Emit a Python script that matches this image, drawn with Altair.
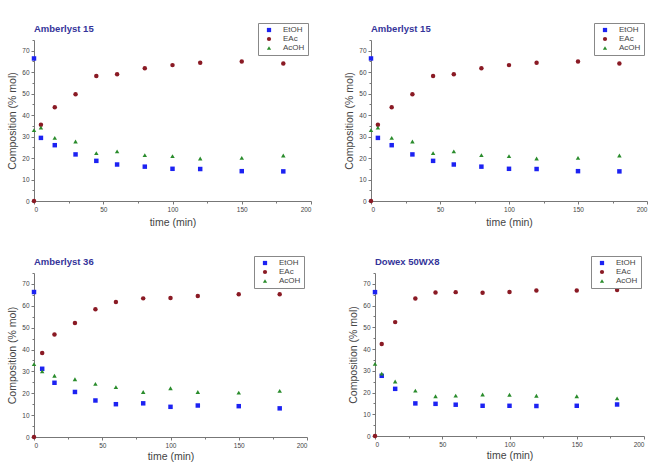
import altair as alt
import pandas as pd

# ---- data ----
time_a = [0, 5, 15, 30, 45, 60, 80, 100, 120, 150, 180]
time_b = [0, 6, 15, 30, 45, 60, 80, 100, 120, 150, 180]

a15_etoh = [66.4, 29.4, 26.0, 21.7, 18.7, 17.0, 16.0, 15.0, 14.9, 13.9, 13.8]
a15_eac = [0.0, 35.5, 43.7, 49.7, 58.2, 59.0, 61.8, 63.3, 64.4, 65.0, 64.1]
a15_acoh = [33.0, 34.2, 29.4, 27.7, 22.3, 23.1, 21.4, 20.9, 19.8, 20.1, 21.2]

a36_etoh = [66.3, 31.2, 24.8, 20.6, 16.7, 15.0, 15.4, 13.8, 14.4, 14.1, 13.1]
a36_eac = [0.0, 38.4, 46.9, 52.1, 58.4, 61.7, 63.4, 63.6, 64.5, 65.3, 65.3]
a36_acoh = [33.3, 30.0, 28.0, 26.4, 24.3, 22.8, 20.6, 22.3, 20.6, 20.3, 21.1]

dw_etoh = [66.2, 27.7, 21.7, 15.0, 14.8, 14.4, 13.9, 13.9, 13.8, 13.9, 14.5]
dw_eac = [0.0, 42.3, 52.4, 63.3, 66.0, 66.2, 65.9, 66.3, 66.9, 66.9, 67.2]
dw_acoh = [33.2, 28.7, 25.1, 20.9, 18.3, 18.6, 19.1, 19.0, 18.5, 18.3, 17.3]

species = ["EtOH", "EAc", "AcOH"]
colors = ["#1c22f2", "#8a1a24", "#2a8c2c"]
shapes = ["square", "circle", "triangle-up"]

FONT = "Liberation Sans"


def panel(title, t, etoh, eac, acoh, W, H, xtitle_pad=5):
    rows = []
    for name, vals in zip(species, [etoh, eac, acoh]):
        for ti, v in zip(t, vals):
            rows.append({"time": ti, "value": v, "species": name})
    df = pd.DataFrame(rows)

    leg = alt.Legend(
        title=None, orient="none", legendX=W - 53, legendY=-17,
        strokeColor="#888888", padding=3, labelFontSize=8, labelFont=FONT,
        labelColor="#444444", symbolSize=18, rowPadding=1, labelOffset=10,
        symbolOffset=4, fillColor="white",
    )
    xaxis = alt.Axis(
        values=list(range(0, 201, 25)),
        labelExpr="datum.value % 50 === 0 ? datum.label : ''",
        tickSize={"condition": {"test": "datum.value % 50 === 0", "value": 3}, "value": 2},
        domainColor="#777777", tickColor="#777777", labelColor="#444444",
        labelFontSize=6.5, labelFont=FONT, titleFont=FONT, titleFontSize=10.5,
        titleFontWeight="normal", titleColor="#444444", grid=False, labelPadding=2,
        titlePadding=xtitle_pad,
    )
    yaxis = alt.Axis(
        values=list(range(0, 76, 5)),
        labelExpr="datum.value % 10 === 0 ? datum.label : ''",
        tickSize={"condition": {"test": "datum.value % 10 === 0", "value": 3}, "value": 2},
        domainColor="#777777", tickColor="#777777", labelColor="#444444",
        labelFontSize=6.5, labelFont=FONT, titleFont=FONT, titleFontSize=10.5,
        titleFontWeight="normal", titleColor="#444444", grid=False, labelPadding=2,
        titlePadding=4,
    )
    return alt.Chart(
        df,
        title=alt.Title(title, anchor="start", frame="group", fontSize=9.5,
                        fontWeight="bold", color="#34349a", font=FONT, offset=-11),
    ).mark_point(filled=True, size=20, opacity=1).encode(
        x=alt.X("time:Q", title="time (min)", scale=alt.Scale(domain=[0, 200], nice=False), axis=xaxis),
        y=alt.Y("value:Q", title="Composition (% mol)", scale=alt.Scale(domain=[0, 75], nice=False), axis=yaxis),
        color=alt.Color("species:N", scale=alt.Scale(domain=species, range=colors), legend=leg),
        shape=alt.Shape("species:N", scale=alt.Scale(domain=species, range=shapes), legend=leg),
    ).properties(width=W, height=H)


p1 = panel("Amberlyst 15", time_a, a15_etoh, a15_eac, a15_acoh, 277, 161)
p2 = panel("Amberlyst 15", time_a, a15_etoh, a15_eac, a15_acoh, 276, 161)
p3 = panel("Amberlyst 36", time_b, a36_etoh, a36_eac, a36_acoh, 273, 164, 3)
p4 = panel("Dowex 50WX8", time_a, dw_etoh, dw_eac, dw_acoh, 269, 163, 3)

row1 = alt.hconcat(p1, p2, spacing=32).resolve_scale(color="independent", shape="independent")
row2 = alt.hconcat(p3, p4, spacing=40).resolve_scale(color="independent", shape="independent")

chart = alt.vconcat(row1, row2, spacing=27).resolve_scale(
    color="independent", shape="independent"
).properties(
    padding={"left": 7, "top": 22, "right": 5, "bottom": 3},
    background="white",
).configure_view(stroke=None)

chart.save("out.html", embed_options={"renderer": "svg", "actions": False})
